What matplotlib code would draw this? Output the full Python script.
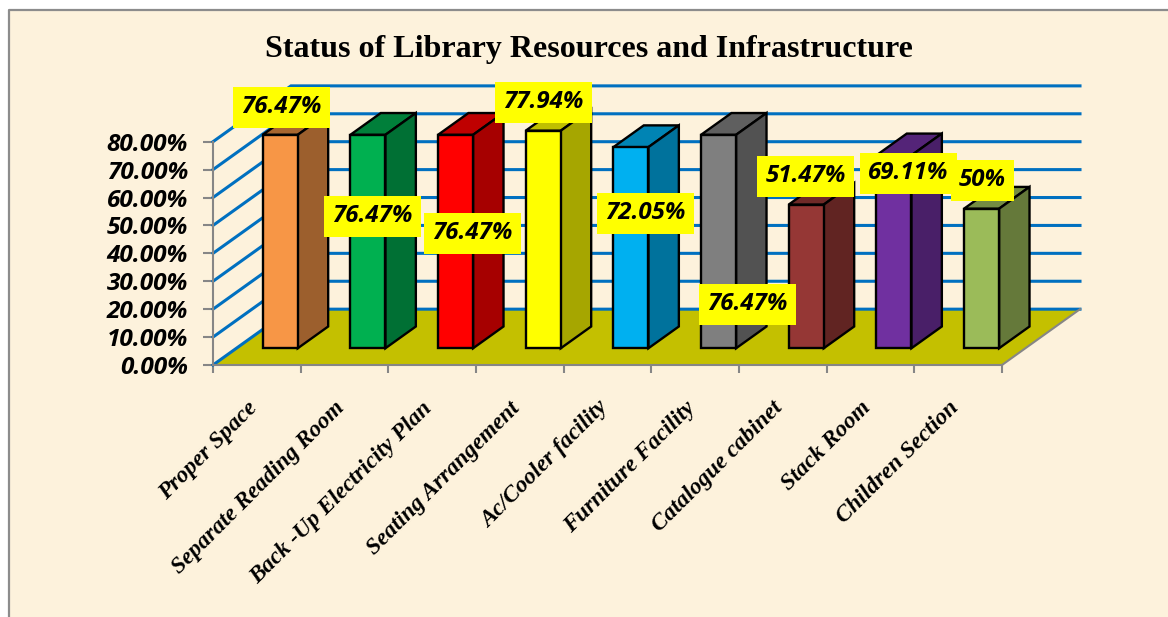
import matplotlib
matplotlib.use('Agg')
import matplotlib.pyplot as plt
from matplotlib.patches import Polygon, Rectangle

# --- DATA ---
CATEGORIES = ['Proper Space', 'Separate Reading Room', 'Back -Up Electricity Plan',
              'Seating Arrangement', 'Ac/Cooler facility', 'Furniture Facility',
              'Catalogue cabinet', 'Stack Room', 'Children Section']
VALUES = [76.47, 76.47, 76.47, 77.94, 72.05, 76.47, 51.47, 69.11, 50]
VALUE_LABELS = ['76.47%', '76.47%', '76.47%', '77.94%', '72.05%', '76.47%', '51.47%', '69.11%', '50%']
Y_TICKS = [0, 10, 20, 30, 40, 50, 60, 70, 80]

FRONT_COLORS = ['#F79646', '#00B050', '#FF0000', '#FFFF00', '#00B0F0', '#7F7F7F', '#953735', '#7030A0', '#9BBB59']
SIDE_COLORS = ['#9C5F2D', '#007034', '#A60000', '#A6A600', '#00729C', '#525252', '#612422', '#491F68', '#65793A']
TOP_COLORS = ['#A8662F', '#007F3A', '#BF0000', '#BFBF00', '#0084B4', '#5F5F5F', '#6F2A28', '#542478', '#748C43']

# label box centres and widths, in image pixels
LABEL_X = [281, 372.5, 472, 543, 645, 747.5, 805.5, 908, 982]
LABEL_Y = [107, 216, 233, 102, 213, 304, 176.5, 173, 180]
LABEL_W = [97, 97, 97, 97, 97, 97, 97, 97, 63]
LABEL_H = 41

# --- CONFIGURATION ---
W, H = 1168, 617
BG = '#FDF2DC'
GRID = '#0070C0'
AXIS = '#868686'
WALL_DX = 78 / 87.67  # chart depth in category units
WALL_DY = 20.0  # chart depth in percent units
BAR_NEAR, BAR_FAR = 0.30, 0.69  # bar position along depth
BAR_W = 0.40
SANS = 'Open Sans'
SERIF = 'Liberation Serif'


def proj(x, depth, v):
    return (x + depth * WALL_DX, v + depth * WALL_DY)


def fx(px):
    return px / W


def fy(py):
    return 1 - py / H


fig = plt.figure(figsize=(W / 100, H / 100), dpi=100, facecolor='white')

# page background and frame
fig.add_artist(Rectangle((fx(9), 0), fx(W - 9), fy(10), transform=fig.transFigure,
                         facecolor=BG, edgecolor='none', zorder=-5))
fig.add_artist(plt.Line2D([fx(9), fx(9), fx(W)], [0, fy(10), fy(10)], transform=fig.transFigure,
                          color='#8C8C8C', lw=1.6, zorder=-4))

ax = fig.add_axes([fx(213), fy(365), 789 / W, 223.3 / H])
ax.set_xlim(0, 9)
ax.set_ylim(0, 80)
ax.patch.set_alpha(0)

# floor
ax.add_patch(Polygon([proj(0, 0, 0), proj(9, 0, 0), proj(9, 1, 0), proj(0, 1, 0)],
                     facecolor='#C4C000', edgecolor='none', clip_on=False, zorder=1))

# gridlines on side wall and back wall
for v in Y_TICKS:
    a, b, c = proj(0, 0, v), proj(0, 1, v), proj(9, 1, v)
    ax.plot([a[0], b[0], c[0]], [a[1], b[1], c[1]], color=GRID, lw=2.2, clip_on=False,
            zorder=2, solid_joinstyle='miter')
a, b = proj(9, 0, 0), proj(9, 1, 0)
ax.plot([a[0], b[0]], [a[1], b[1]], color=AXIS, lw=1.5, clip_on=False, zorder=3)

# bars
for i, v in enumerate(VALUES):
    x0 = i + 0.5 - BAR_W / 2
    x1 = i + 0.5 + BAR_W / 2
    front = [proj(x0, BAR_NEAR, 0), proj(x1, BAR_NEAR, 0), proj(x1, BAR_NEAR, v), proj(x0, BAR_NEAR, v)]
    side = [proj(x1, BAR_NEAR, 0), proj(x1, BAR_FAR, 0), proj(x1, BAR_FAR, v), proj(x1, BAR_NEAR, v)]
    top = [proj(x0, BAR_NEAR, v), proj(x1, BAR_NEAR, v), proj(x1, BAR_FAR, v), proj(x0, BAR_FAR, v)]
    for pts, col in [(top, TOP_COLORS[i]), (side, SIDE_COLORS[i]), (front, FRONT_COLORS[i])]:
        ax.add_patch(Polygon(pts, facecolor=col, edgecolor='black', lw=1.7, clip_on=False,
                             zorder=4, joinstyle='miter'))

# axes
for s in ['top', 'right']:
    ax.spines[s].set_visible(False)
for s in ['left', 'bottom']:
    ax.spines[s].set_color(AXIS)
    ax.spines[s].set_linewidth(1.5)
    ax.spines[s].set_zorder(3)
ax.set_yticks(Y_TICKS)
ax.set_yticklabels(['%.2f%%' % v for v in Y_TICKS], fontfamily=SANS, fontsize=17.6,
                   fontweight='bold', fontstyle='italic')
ax.tick_params(axis='y', length=7, width=1.5, color=AXIS, pad=11)
ax.set_xticks(range(10))
ax.set_xticklabels([])
ax.tick_params(axis='x', length=6, width=1.5, color=AXIS)

# category labels, right end under each slot
for i, name in enumerate(CATEGORIES):
    ax.annotate(name, xy=(i + 0.5, 0), xycoords='data', xytext=(-3, -40), textcoords='offset pixels',
                rotation=45, rotation_mode='anchor', ha='right', va='center',
                fontfamily=SERIF, fontsize=16.8, fontweight='bold', fontstyle='italic',
                annotation_clip=False)

fig.text(fx(588.5), fy(49), 'Status of Library Resources and Infrastructure', ha='center', va='center',
         fontfamily=SERIF, fontsize=23, fontweight='bold')

# data labels sit on top of everything
for i, lab in enumerate(VALUE_LABELS):
    cx, cy, bw = LABEL_X[i], LABEL_Y[i], LABEL_W[i]
    fig.add_artist(Rectangle((fx(cx - bw / 2), fy(cy + LABEL_H / 2)), bw / W, LABEL_H / H,
                             transform=fig.transFigure, facecolor='#FFFF00', edgecolor='none', zorder=5))
    fig.text(fx(cx), fy(cy), lab, ha='center', va='center', fontfamily=SANS, fontsize=17.3,
             fontweight='bold', fontstyle='italic', zorder=6)

fig.savefig('out.png', dpi=100, facecolor=fig.get_facecolor())
